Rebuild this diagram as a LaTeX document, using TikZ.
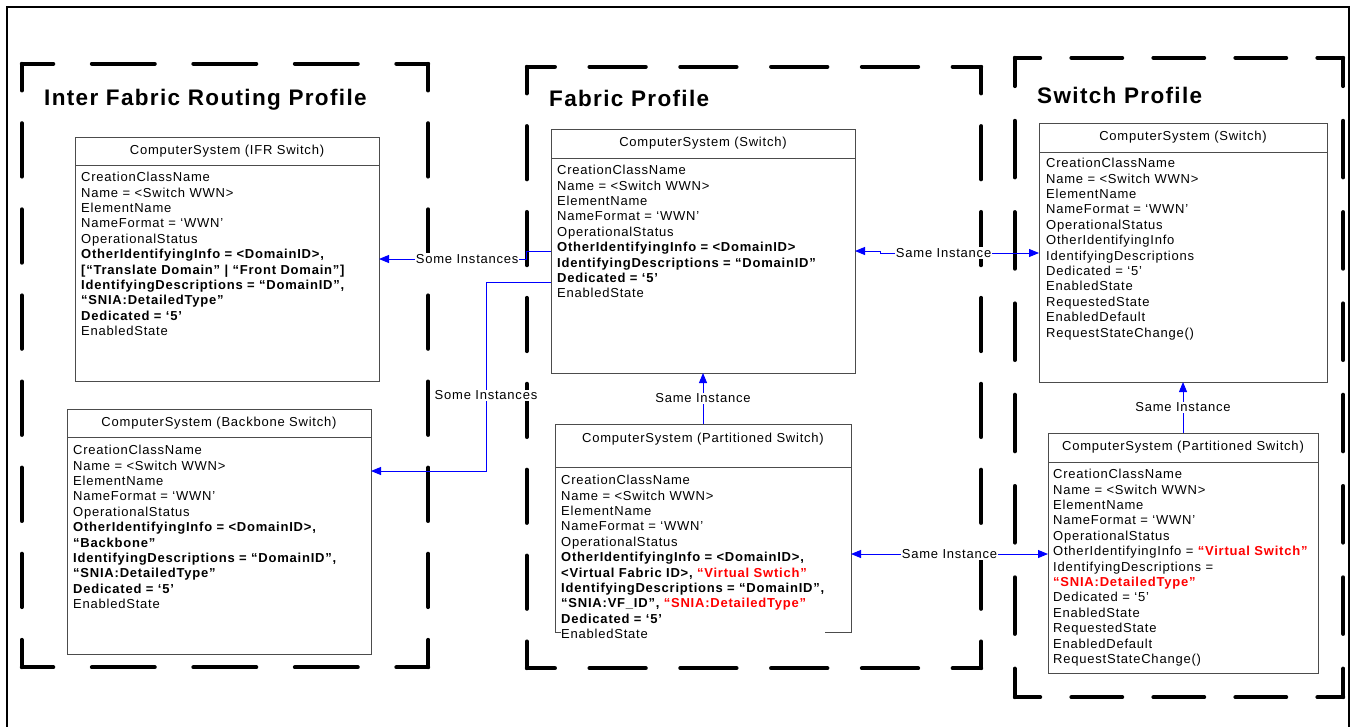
\documentclass[tikz,border=0pt]{standalone}
\usepackage{fontspec}
\setmainfont{Liberation Sans}[LetterSpace=6]
\usetikzlibrary{arrows.meta,positioning}
\tikzset{%
  >={Triangle[width=8pt,length=10pt]},
  % Profiles and their titles:
     profilebox/.style = {rectangle, draw=none},
   profileside/.style = {draw=black, line width=4pt, line cap=round,
                          dash pattern=on 0.62*#1 off 0.38*#1, dash phase=0.31*#1},
         ptitle/.style = {anchor=base west, inner sep=0pt,
                          font=\fontsize{22.5pt}{27pt}\selectfont\bfseries},
  % Class boxes:
      classbase/.style = {rectangle, draw=black!70, line width=1pt, outer sep=0pt},
      classhead/.style = {classbase, align=center,
                          font=\fontsize{13pt}{15.4pt}\selectfont},
      classbody/.style = {classbase, below=0pt of #1},
          attrs/.style = {anchor=north west, inner sep=0pt, fill=white, align=left,
                          font=\fontsize{13pt}{15.4pt}\selectfont},
  % Connectors:
           link/.style = {draw=blue, line width=0.9pt},
      linklabel/.style = {fill=white, inner sep=1pt,
                          font=\fontsize{13pt}{15.4pt}\selectfont}
}

\begin{document}
\begin{tikzpicture}[x=1pt, y=-1pt]
  \useasboundingbox (0,0) rectangle (1354,726);
  \draw[line width=2pt] (7,735) -- (7,7) -- (1349,7) -- (1349,735);

  % the three profiles
  \node (ifrp) [profilebox, minimum width=406pt, minimum height=603pt] at (225,365.5) {};
  \node (fabp) [profilebox, minimum width=454pt, minimum height=601pt] at (754,367.5) {};
  \node (swp)  [profilebox, minimum width=328pt, minimum height=639pt] at (1179,377.5) {};
  \draw[profileside=101.5] (ifrp.north west) -- (ifrp.north east)
                           (ifrp.south west) -- (ifrp.south east);
  \draw[profileside=86.1]  (ifrp.north west) -- (ifrp.south west)
                           (ifrp.north east) -- (ifrp.south east);
  \draw[profileside=90.8]  (fabp.north west) -- (fabp.north east)
                           (fabp.south west) -- (fabp.south east);
  \draw[profileside=85.9]  (fabp.north west) -- (fabp.south west)
                           (fabp.north east) -- (fabp.south east);
  \draw[profileside=82]    (swp.north west) -- (swp.north east)
                           (swp.south west) -- (swp.south east);
  \draw[profileside=91.3]  (swp.north west) -- (swp.south west)
                           (swp.north east) -- (swp.south east);
  \node (ifrt) [ptitle] at (44,105)  {Inter Fabric Routing Profile};
  \node (fabt) [ptitle] at (549,106) {Fabric Profile};
  \node (swt)  [ptitle] at (1037,103) {Switch Profile};

  % Inter Fabric Routing Profile
  \node (ifrh) [classhead, minimum width=304pt, minimum height=28pt] at (227,151)
        {ComputerSystem (IFR Switch)};
  \node (ifrb) [classbody=ifrh, minimum width=304pt, minimum height=216pt] {};
  \node (ifra) [attrs] at ([shift={(6pt,-7pt)}]ifrb.north west)
        {CreationClassName\\ Name = <Switch WWN>\\ ElementName\\ NameFormat = ‘WWN’\\
         OperationalStatus\\
         \textbf{OtherIdentifyingInfo = <DomainID>,}\\
         \textbf{[“Translate Domain” | “Front Domain”]}\\
         \textbf{IdentifyingDescriptions = “DomainID”,}\\
         \textbf{“SNIA:DetailedType”}\\
         \textbf{Dedicated = ‘5’}\\ EnabledState};

  \node (bkh) [classhead, minimum width=304pt, minimum height=28pt] at (219,423)
        {ComputerSystem (Backbone Switch)};
  \node (bkb) [classbody=bkh, minimum width=304pt, minimum height=217pt] {};
  \node (bka) [attrs] at ([shift={(6pt,-8pt)}]bkb.north west)
        {CreationClassName\\ Name = <Switch WWN>\\ ElementName\\ NameFormat = ‘WWN’\\
         OperationalStatus\\
         \textbf{OtherIdentifyingInfo = <DomainID>,}\\
         \textbf{“Backbone”}\\
         \textbf{IdentifyingDescriptions = “DomainID”,}\\
         \textbf{“SNIA:DetailedType”}\\
         \textbf{Dedicated = ‘5’}\\ EnabledState};

  % Fabric Profile
  \node (cfh) [classhead, minimum width=304pt, minimum height=29pt] at (703,143.5)
        {ComputerSystem (Switch)};
  \node (cfb) [classbody=cfh, minimum width=304pt, minimum height=215pt] {};
  \node (cfa) [attrs] at ([shift={(6pt,-7pt)}]cfb.north west)
        {CreationClassName\\ Name = <Switch WWN>\\ ElementName\\ NameFormat = ‘WWN’\\
         OperationalStatus\\
         \textbf{OtherIdentifyingInfo = <DomainID>}\\
         \textbf{IdentifyingDescriptions = “DomainID”}\\
         \textbf{Dedicated = ‘5’}\\ EnabledState};

  \node (pfh) [classhead, minimum width=296pt, minimum height=43pt] at (703,445.5)
        {ComputerSystem (Partitioned Switch)\\ \mbox{}};
  \node (pfb) [classbody=pfh, minimum width=296pt, minimum height=165pt] {};
  \node (pfa) [attrs] at ([shift={(6pt,-8pt)}]pfb.north west)
        {CreationClassName\\ Name = <Switch WWN>\\ ElementName\\ NameFormat = ‘WWN’\\
         OperationalStatus\\
         \textbf{OtherIdentifyingInfo = <DomainID>,}\\
         \textbf{<Virtual Fabric ID>, \textcolor{red}{“Virtual Swtich”}}\\
         \textbf{IdentifyingDescriptions = “DomainID”,}\\
         \textbf{“SNIA:VF\_ID”, \textcolor{red}{“SNIA:DetailedType”}}\\
         \textbf{Dedicated = ‘5’}\\ EnabledState};

  % Switch Profile
  \node (swh) [classhead, minimum width=288pt, minimum height=29pt] at (1183,137.5)
        {ComputerSystem (Switch)};
  \node (swb) [classbody=swh, minimum width=288pt, minimum height=230pt] {};
  \node (swa) [attrs] at ([shift={(7pt,-6pt)}]swb.north west)
        {CreationClassName\\ Name = <Switch WWN>\\ ElementName\\ NameFormat = ‘WWN’\\
         OperationalStatus\\ OtherIdentifyingInfo\\ IdentifyingDescriptions\\
         Dedicated = ‘5’\\ EnabledState\\ RequestedState\\ EnabledDefault\\
         RequestStateChange()};

  \node (sph) [classhead, minimum width=270pt, minimum height=29pt] at (1183,447.5)
        {ComputerSystem (Partitioned Switch)};
  \node (spb) [classbody=sph, minimum width=270pt, minimum height=211pt] {};
  \node (spa) [attrs] at ([shift={(5pt,-7pt)}]spb.north west)
        {CreationClassName\\ Name = <Switch WWN>\\ ElementName\\ NameFormat = ‘WWN’\\
         OperationalStatus\\
         OtherIdentifyingInfo = \textcolor{red}{\textbf{“Virtual Switch”}}\\
         IdentifyingDescriptions =\\
         \textcolor{red}{\textbf{“SNIA:DetailedType”}}\\
         Dedicated = ‘5’\\ EnabledState\\ RequestedState\\ EnabledDefault\\
         RequestStateChange()};

  % instance links
  \draw[link,->] ([yshift=-93pt]cfb.north west) -- ++(-25,0)
        |- node[linklabel, pos=0.7] {Some Instances} ([yshift=-94pt]ifrb.north east);
  \draw[link,->] ([yshift=-124pt]cfb.north west) -- ++(-65,0)
        |- node[linklabel, pos=0.3] {Some Instances} ([yshift=-34pt]bkb.north east);
  \draw[link,<->] ([yshift=-93pt]cfb.north east) -- ++(25,0)
        |- node[linklabel, pos=0.7] {Same Instance} ([yshift=-101pt]swb.north west);
  \draw[link,->] (pfh.north) -- node[linklabel] {Same Instance} (cfb.south);
  \draw[link,<->] ([yshift=-87pt]pfb.north east) -- node[linklabel] {Same Instance}
        ([yshift=-92pt]spb.north west);
  \draw[link,->] (sph.north) -- node[linklabel] {Same Instance} (swb.south);
\end{tikzpicture}
\end{document}
